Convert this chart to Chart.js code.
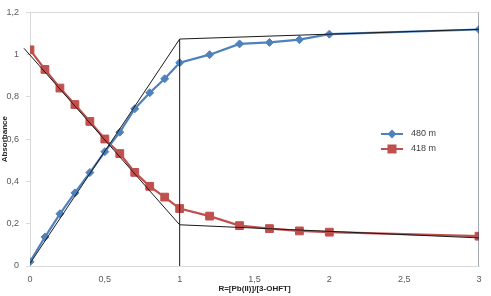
<!DOCTYPE html>
<html>
<head>
<meta charset="utf-8">
<script src="https://cdn.jsdelivr.net/npm/chart.js@4/dist/chart.umd.min.js"></script>
<style>
  html, body { margin: 0; padding: 0; background: #fff; }
  #wrap { width: 491px; height: 296px; }
</style>
</head>
<body>
<div id="wrap"><canvas id="chart" width="491" height="296"></canvas></div>
<script>
const ratios = [0, 0.1, 0.2, 0.3, 0.4, 0.5, 0.6, 0.7, 0.8, 0.9, 1.0, 1.2, 1.4, 1.6, 1.8, 2.0, 3.0];
const abs480 = [0.02, 0.137, 0.247, 0.346, 0.442, 0.541, 0.633, 0.744, 0.82, 0.886, 0.962, 1.0, 1.051, 1.058, 1.071, 1.097, 1.119];
const abs418 = [1.023, 0.93, 0.842, 0.764, 0.684, 0.601, 0.532, 0.443, 0.377, 0.326, 0.272, 0.236, 0.191, 0.177, 0.166, 0.16, 0.141];

// tangent lines drawn over the data (x, y pairs)
const fit480 = [[0, 0.012], [1, 1.074], [3, 1.12]];
const fit418 = [[-0.04, 1.03], [1, 0.195], [3, 0.133]];
const markerX1 = [[1, 0], [1, 1.074]];
const markerX3 = [[3, 0], [3, 1.2]];

const seriesLabels = ['480 m', '418 m'];
const xTitle = 'R=[Pb(II)]/[3-OHFT]';
const yTitle = 'Absorbance';

const COLORS = {
    blue: '#4f81bd',
    red: '#c0504d',
    fit: '#1a1a1a',
    edge: '#44546a',
    text: '#595959',
    axis: '#d9d9d9'
};

const toPts = arr => arr.map(p => ({ x: p[0], y: p[1] }));
const fmt = v => parseFloat(v.toFixed(2)).toString().replace('.', ',');

// small legend drawn inside the plot, like the original
const legendPlugin = {
    id: 'insideLegend',
    afterDraw(chart) {
        const ctx = chart.ctx;
        const items = [
            { label: seriesLabels[0], color: COLORS.blue, style: 'rectRot', r: 3, y: 134 },
            { label: seriesLabels[1], color: COLORS.red, style: 'rect', r: 5, y: 149 }
        ];
        ctx.save();
        items.forEach(it => {
            ctx.strokeStyle = it.color;
            ctx.lineWidth = 2;
            ctx.beginPath();
            ctx.moveTo(381, it.y);
            ctx.lineTo(403, it.y);
            ctx.stroke();
            ctx.fillStyle = it.color;
            Chart.helpers.drawPoint(ctx, { pointStyle: it.style, radius: it.r, borderWidth: 1 }, 392, it.y);
            ctx.fill();
            ctx.fillStyle = '#404040';
            ctx.font = '9px "Liberation Sans", Arial, sans-serif';
            ctx.textBaseline = 'middle';
            ctx.fillText(it.label, 411, it.y);
        });
        ctx.restore();
    }
};

const ctx = document.getElementById('chart').getContext('2d');
new Chart(ctx, {
    type: 'scatter',
    data: {
        datasets: [
            {
                label: seriesLabels[0],
                data: ratios.map((r, i) => ({ x: r, y: abs480[i] })),
                showLine: true,
                borderColor: COLORS.blue,
                backgroundColor: COLORS.blue,
                borderWidth: 2.2,
                pointStyle: 'rectRot',
                pointRadius: 4,
                pointBorderWidth: 1,
                order: 2
            },
            {
                label: seriesLabels[1],
                data: ratios.map((r, i) => ({ x: r, y: abs418[i] })),
                showLine: true,
                borderColor: COLORS.red,
                backgroundColor: COLORS.red,
                borderWidth: 2.2,
                pointStyle: 'rect',
                pointRadius: 5.5,
                pointBorderWidth: 1,
                order: 2
            },
            { label: 'fit480', data: toPts(fit480), showLine: true, borderColor: COLORS.fit, borderWidth: 1, pointRadius: 0, order: 1 },
            { label: 'fit418', data: toPts(fit418), showLine: true, borderColor: COLORS.fit, borderWidth: 1, pointRadius: 0, order: 1, clip: false },
            { label: 'x1', data: toPts(markerX1), showLine: true, borderColor: COLORS.fit, borderWidth: 1, pointRadius: 0, order: 1 },
            { label: 'x3', data: toPts(markerX3), showLine: true, borderColor: COLORS.edge, borderWidth: 1, pointRadius: 0, order: 1 }
        ]
    },
    options: {
        responsive: false,
        animation: false,
        layout: { padding: { top: 8, right: 12, left: 0, bottom: 0 } },
        plugins: {
            legend: { display: false },
            tooltip: { enabled: false }
        },
        scales: {
            x: {
                type: 'linear',
                min: 0, max: 3,
                afterFit: s => { s.height = 30; },
                ticks: {
                    stepSize: 0.5,
                    color: COLORS.text,
                    padding: 0,
                    maxRotation: 0,
                    font: { size: 9, family: '"Liberation Sans", Arial, sans-serif' },
                    callback: v => fmt(v)
                },
                grid: { display: false },
                border: { color: COLORS.axis },
                title: {
                    display: true,
                    text: xTitle,
                    color: '#262626',
                    padding: { top: 0, bottom: 2 },
                    font: { size: 8, weight: 'bold', family: '"Liberation Sans", Arial, sans-serif' }
                }
            },
            y: {
                min: 0, max: 1.2,
                afterFit: s => { s.width = 30; },
                ticks: {
                    stepSize: 0.2,
                    color: COLORS.text,
                    padding: 7,
                    font: { size: 9, family: '"Liberation Sans", Arial, sans-serif' },
                    callback: v => fmt(v)
                },
                grid: {
                    color: c => (c.tick && c.tick.value > 1.19 ? COLORS.axis : 'rgba(0,0,0,0)'),
                    tickColor: COLORS.axis,
                    tickLength: 4
                },
                border: { color: COLORS.axis },
                title: {
                    display: true,
                    text: yTitle,
                    color: '#262626',
                    padding: { top: 0, bottom: 0 },
                    font: { size: 8, weight: 'bold', family: '"Liberation Sans", Arial, sans-serif' }
                }
            }
        }
    },
    plugins: [legendPlugin]
});
</script>
</body>
</html>
